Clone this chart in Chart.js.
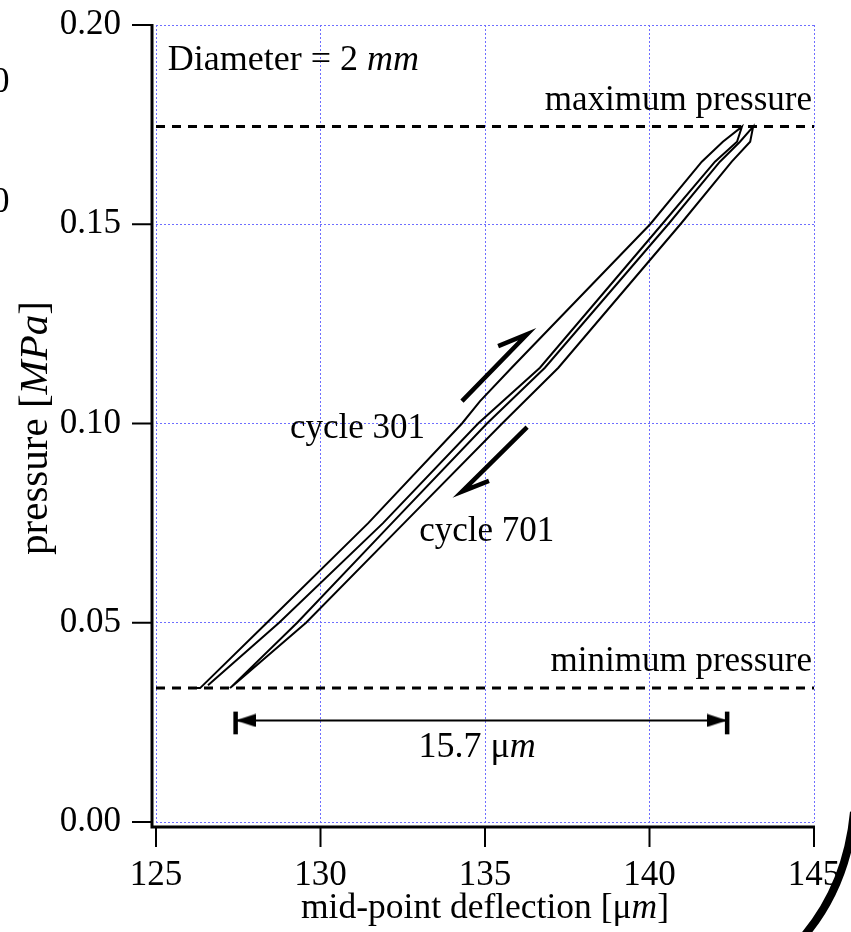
<!DOCTYPE html>
<html>
<head>
<meta charset="utf-8">
<script src="https://cdn.jsdelivr.net/npm/chart.js@4.4.0/dist/chart.umd.min.js"></script>
<style>
    html, body { margin: 0; padding: 0; background: #fff; }
</style>
</head>
<body>
<canvas id="hysteresisChart" width="851" height="932"></canvas>
<script>
const xTicks = [125, 130, 135, 140, 145];
const yTicks = [0, 0.05, 0.10, 0.15, 0.20];
const yTickLabels = ['0.00', '0.05', '0.10', '0.15', '0.20'];

// cycle 301: loading branch up to the tip, then unloading branch back down
const cycle301Deflection = [126.20, 126.34, 128.37, 131.45, 134.30, 134.85, 135.81, 140.02, 141.59, 142.23, 142.81, 142.66, 141.99, 140.38, 136.67, 134.79, 131.90, 128.74, 126.58];
const cycle301Pressure = [0.0336, 0.0336, 0.050, 0.075, 0.100, 0.1056, 0.114, 0.150, 0.1657, 0.1707, 0.1745, 0.1707, 0.1657, 0.150, 0.114, 0.100, 0.075, 0.050, 0.0343];

// cycle 701
const cycle701Deflection = [127.25, 129.29, 132.17, 135.06, 136.82, 140.57, 142.14, 142.75, 143.15, 143.06, 142.50, 140.94, 137.23, 135.52, 132.54, 129.56, 127.45, 127.25];
const cycle701Pressure = [0.0336, 0.050, 0.075, 0.100, 0.114, 0.150, 0.1657, 0.1707, 0.1745, 0.1707, 0.1657, 0.150, 0.114, 0.100, 0.075, 0.050, 0.035, 0.0336];

const pressureLimits = [0.0336, 0.1745];   // minimum, maximum
const xRange = [125, 145];

// loading / unloading arrows: barb end, tip, tail
const upArrowDeflection = [135.40, 136.28, 134.30];
const upArrowPressure = [0.1194, 0.1224, 0.1056];
const downArrowDeflection = [135.12, 134.30, 136.28];
const downArrowPressure = [0.0856, 0.0829, 0.0991];

// 15.7 um span marker
const spanEnds = [127.42, 142.36];
const spanLevel = 0.0255;
const spanBar = [0.0220, 0.0277];

const serif = '"Liberation Serif", "Times New Roman", serif';
const textSize = 35;

const notes = [
    { parts: [['Diameter = 2 ', false], ['mm', true]], x: 125.36, y: 0.1887, align: 'left', size: 36 },
    { parts: [['maximum pressure', false]], x: 144.94, y: 0.1787, align: 'right' },
    { parts: [['minimum pressure', false]], x: 144.94, y: 0.038, align: 'right' },
    { parts: [['cycle 301', false]], x: 129.07, y: 0.0964, align: 'left' },
    { parts: [['cycle 701', false]], x: 133.0, y: 0.0706, align: 'left' },
    { parts: [['15.7 \u03bc', false], ['m', true]], x: 134.76, y: 0.0163, align: 'center', size: 36 }
];

function zip(xs, ys) {
    return xs.map((x, i) => ({ x: x, y: ys[i] }));
}

function makeHead(pointLeft) {
    const c = document.createElement('canvas');
    c.width = 40;
    c.height = 14;
    const g = c.getContext('2d');
    g.fillStyle = '#000';
    g.beginPath();
    if (pointLeft) {
        g.moveTo(20, 7); g.lineTo(40, 0.5); g.lineTo(40, 13.5);
    } else {
        g.moveTo(20, 7); g.lineTo(0, 0.5); g.lineTo(0, 13.5);
    }
    g.closePath();
    g.fill();
    return c;
}

function richText(ctx, parts, x, y, align, size) {
    const px = size || textSize;
    const fontFor = p => (p[1] ? 'italic ' : '') + px + 'px ' + serif;
    let w = 0;
    parts.forEach(p => { ctx.font = fontFor(p); w += ctx.measureText(p[0]).width; });
    let cx = align === 'right' ? x - w : align === 'center' ? x - w / 2 : x;
    parts.forEach(p => {
        ctx.font = fontFor(p);
        ctx.fillText(p[0], cx, y);
        cx += ctx.measureText(p[0]).width;
    });
}

const decorPlugin = {
    id: 'decor',
    afterDatasetsDraw(chart) {
        const { ctx, chartArea: a, scales: { x, y } } = chart;
        const ax = a.left - 4;
        const ay = a.bottom + 5;

        ctx.save();
        // offset axes with outward ticks
        ctx.strokeStyle = '#000';
        ctx.lineWidth = 3;
        ctx.lineJoin = 'miter';
        ctx.beginPath();
        ctx.moveTo(ax, a.top - 1);
        ctx.lineTo(ax, ay);
        ctx.lineTo(a.right + 1, ay);
        ctx.stroke();
        ctx.lineWidth = 2;
        yTicks.forEach(v => {
            const py = y.getPixelForValue(v);
            ctx.beginPath();
            ctx.moveTo(ax, py);
            ctx.lineTo(ax - 20, py);
            ctx.stroke();
        });
        xTicks.forEach(v => {
            const px = x.getPixelForValue(v);
            ctx.beginPath();
            ctx.moveTo(px, ay);
            ctx.lineTo(px, ay + 20);
            ctx.stroke();
        });

        // annotations
        ctx.fillStyle = '#000';
        ctx.textBaseline = 'alphabetic';
        ctx.textAlign = 'left';
        notes.forEach(n => {
            richText(ctx, n.parts, x.getPixelForValue(n.x), y.getPixelForValue(n.y), n.align, n.size);
        });

        // axis titles
        richText(ctx, [['mid-point deflection [\u03bc', false], ['m', true], [']', false]], (a.left + a.right) / 2, 918, 'center', 35.5);
        ctx.save();
        ctx.translate(47, 428);
        ctx.rotate(-Math.PI / 2);
        richText(ctx, [['pressure [', false], ['MPa', true], [']', false]], 0, 0, 'center', 41);
        ctx.restore();

        // cropped edges of the neighbouring figure
        ctx.font = textSize + 'px ' + serif;
        ctx.textAlign = 'right';
        ctx.fillText('0', 9.5, 92);
        ctx.fillText('0', 9.5, 212);
        ctx.lineWidth = 8;
        ctx.beginPath();
        ctx.moveTo(854, 812);
        ctx.quadraticCurveTo(847, 885, 804, 936);
        ctx.stroke();
        ctx.restore();
    }
};

const loopStyle = {
    showLine: true,
    borderColor: '#000',
    backgroundColor: '#000',
    borderWidth: 2,
    pointRadius: 0,
    fill: false,
    tension: 0
};

const gridStyle = { color: 'rgb(110,110,255)', lineWidth: 1, drawTicks: false };

new Chart(document.getElementById('hysteresisChart'), {
    type: 'scatter',
    data: {
        datasets: [
            { ...loopStyle, label: 'cycle 301', data: zip(cycle301Deflection, cycle301Pressure) },
            { ...loopStyle, label: 'cycle 701', data: zip(cycle701Deflection, cycle701Pressure) },
            { ...loopStyle, label: 'maximum pressure', borderWidth: 3, borderDash: [9, 7],
              data: zip(xRange, [pressureLimits[1], pressureLimits[1]]) },
            { ...loopStyle, label: 'minimum pressure', borderWidth: 3, borderDash: [9, 7],
              data: zip(xRange, [pressureLimits[0], pressureLimits[0]]) },
            { ...loopStyle, label: 'loading', borderWidth: 4.5, borderJoinStyle: 'miter',
              data: zip(upArrowDeflection, upArrowPressure) },
            { ...loopStyle, label: 'unloading', borderWidth: 4.5, borderJoinStyle: 'miter',
              data: zip(downArrowDeflection, downArrowPressure) },
            { ...loopStyle, label: 'span', borderWidth: 2, pointRadius: 5,
              pointStyle: [makeHead(true), makeHead(false)],
              data: zip(spanEnds, [spanLevel, spanLevel]) },
            { ...loopStyle, label: 'span start', borderWidth: 4.5,
              data: zip([spanEnds[0], spanEnds[0]], spanBar) },
            { ...loopStyle, label: 'span end', borderWidth: 4.5,
              data: zip([spanEnds[1], spanEnds[1]], spanBar) }
        ]
    },
    options: {
        responsive: false,
        animation: false,
        events: [],
        layout: { padding: { top: 25, right: 37, left: 0, bottom: 0 } },
        plugins: {
            legend: { display: false },
            tooltip: { enabled: false }
        },
        scales: {
            x: {
                type: 'linear',
                min: 125,
                max: 145,
                afterFit: s => { s.height = 110; s.paddingLeft = 0; s.paddingRight = 0; },
                afterBuildTicks: s => { s.ticks = xTicks.map(v => ({ value: v })); },
                grid: gridStyle,
                border: { display: false, dash: [2, 2] },
                ticks: {
                    color: '#000',
                    font: { family: serif, size: textSize },
                    padding: 33,
                    maxRotation: 0,
                    autoSkip: false
                }
            },
            y: {
                type: 'linear',
                min: 0,
                max: 0.2,
                afterFit: s => { s.width = 156; s.paddingTop = 0; s.paddingBottom = 0; },
                afterBuildTicks: s => { s.ticks = yTicks.map(v => ({ value: v })); },
                grid: gridStyle,
                border: { display: false, dash: [2, 2] },
                ticks: {
                    color: '#000',
                    font: { family: serif, size: textSize },
                    padding: 35,
                    callback: (v, i) => yTickLabels[i]
                }
            }
        }
    },
    plugins: [decorPlugin]
});
</script>
</body>
</html>
